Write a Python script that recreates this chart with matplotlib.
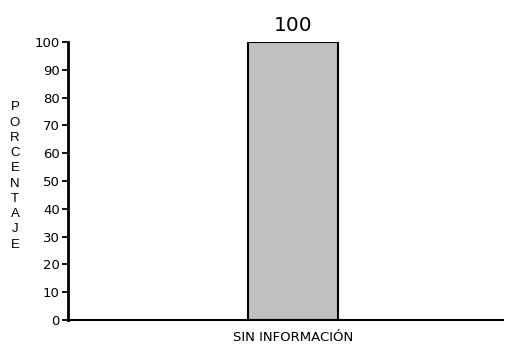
import matplotlib
matplotlib.use("Agg")
import matplotlib.pyplot as plt

categories = ["SIN INFORMACIÓN"]
values = [100]
yticks = [0, 10, 20, 30, 40, 50, 60, 70, 80, 90, 100]
ylabel = "PORCENTAJE"

plt.rcParams['font.family'] = ['DejaVu Sans']

fig = plt.figure(figsize=(5.09, 3.46), dpi=100)
ax = fig.add_axes([68/509, 1-320/346, (503-68)/509, (320-42)/346])

x = list(range(len(categories)))
ax.bar(x, values, width=0.207, color="#c0c0c0", edgecolor="black", linewidth=1.5, zorder=2)
for xi, v in zip(x, values):
    ax.text(xi, v + 2.6, f"{v}", ha="center", va="bottom", fontsize=14.5)

ax.set_xlim(-0.517, 0.483)
ax.set_ylim(0, 100)
ax.set_yticks(yticks)
ax.set_yticklabels([str(t) for t in yticks], fontsize=9.5)
ax.set_xticks(x)
ax.set_xticklabels(categories, fontsize=9.5)
ax.tick_params(axis='x', length=0, pad=8)
ax.tick_params(axis='y', length=4, width=1.3, direction='out', pad=2)
ax.spines['top'].set_visible(False)
ax.spines['right'].set_visible(False)
ax.spines['left'].set_linewidth(2)
ax.spines['bottom'].set_linewidth(1.5)

fig.text(15/509, 1-176/346, "\n".join(ylabel), ha="center", va="center",
         fontsize=9.5, linespacing=1.36, family=['Liberation Sans'])

fig.savefig("out.png", dpi=100)
